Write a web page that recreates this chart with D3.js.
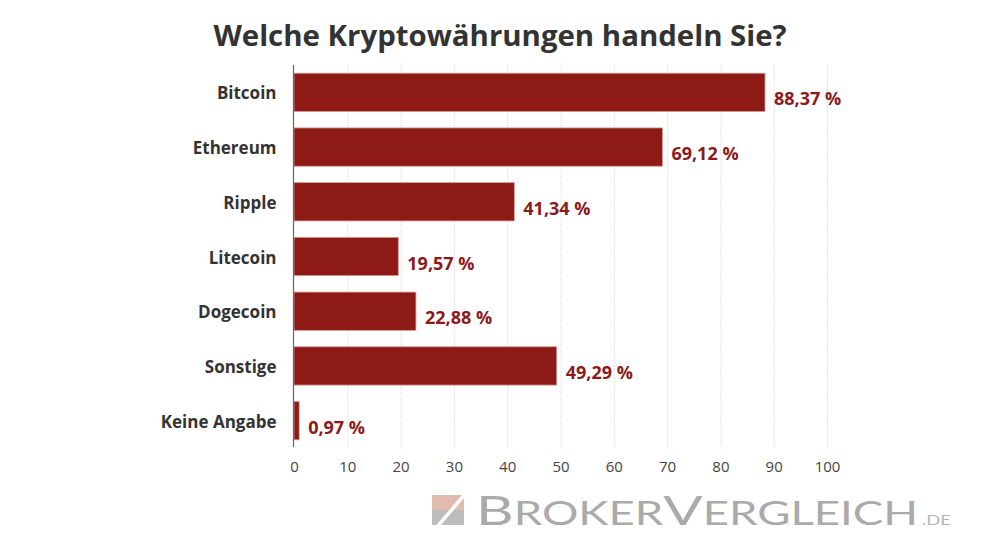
<!DOCTYPE html>
<html><head><meta charset="utf-8">
<script src="https://cdn.jsdelivr.net/npm/d3@7"></script>
<style>
body{margin:0;background:#fff;}
svg{display:block;}
</style></head>
<body>
<script>
const title = "Welche Kryptowährungen handeln Sie?";
const categories = ["Bitcoin","Ethereum","Ripple","Litecoin","Dogecoin","Sonstige","Keine Angabe"];
const values = [88.37,69.12,41.34,19.57,22.88,49.29,0.97];
const valueLabels = ["88,37 %","69,12 %","41,34 %","19,57 %","22,88 %","49,29 %","0,97 %"];
const xTicks = [0,10,20,30,40,50,60,70,80,90,100];

const W=1000,H=541;
const svg=d3.select("body").append("svg").attr("width",W).attr("height",H);
const font="'Open Sans', 'Noto Sans', sans-serif";

const x=d3.scaleLinear().domain([0,100]).range([294,827]);
const y=d3.scaleBand().domain(categories).range([65,448]).paddingInner(0.3).paddingOuter(0.15);

// title
svg.append("text").attr("x",500).attr("y",46).attr("text-anchor","middle")
  .attr("font-family",font).attr("font-weight",700).attr("font-size",29.4)
  .attr("fill","#333").text(title);

// grid
svg.append("g").selectAll("line").data(xTicks.slice(1)).join("line")
  .attr("x1",d=>x(d)+0.5).attr("x2",d=>x(d)+0.5).attr("y1",65).attr("y2",447)
  .attr("stroke","#e3e3e3").attr("stroke-width",1).attr("stroke-dasharray","2,1");

// x axis labels
const xAxis=d3.axisBottom(x).tickValues(xTicks).tickSize(0).tickPadding(0).tickFormat(d3.format("d"));
const gx=svg.append("g").attr("transform","translate(0,460)").call(xAxis);
gx.select(".domain").remove();
gx.selectAll("text").attr("font-family",font).attr("font-size",15).attr("fill","#444").attr("dy","0.8em");

// bars
svg.append("g").selectAll("rect").data(values).join("rect")
  .attr("x",x(0)).attr("y",(d,i)=>y(categories[i]))
  .attr("width",d=>x(d)-x(0)).attr("height",y.bandwidth())
  .attr("fill","#8e1a16").attr("stroke","#d49a96").attr("stroke-width",0.8);

// value labels
svg.append("g").selectAll("text").data(values).join("text")
  .attr("x",d=>x(d)+9).attr("y",(d,i)=>y(categories[i])+y.bandwidth()/2+13)
  .attr("font-family",font).attr("font-weight",700).attr("font-size",18)
  .attr("fill","#8b1a1a").text((d,i)=>valueLabels[i]);

// y axis
const yAxis=d3.axisLeft(y).tickSize(0).tickPadding(17);
const gy=svg.append("g").attr("transform","translate(293.5,0)").call(yAxis);
gy.select(".domain").remove();
gy.selectAll("text").attr("font-family",font).attr("font-weight",700).attr("font-size",17).attr("fill","#333").attr("dy","0.42em");
svg.append("line").attr("x1",293.5).attr("x2",293.5).attr("y1",65).attr("y2",447).attr("stroke","#666").attr("stroke-width",1.2);

// logo
const lg=svg.append("g");
lg.append("rect").attr("x",432).attr("y",495).attr("width",32).attr("height",15).attr("fill","#e2bbb0");
lg.append("rect").attr("x",432).attr("y",510).attr("width",32).attr("height",15).attr("fill","#bdbdbd");
lg.append("line").attr("x1",437).attr("y1",527).attr("x2",466).attr("y2",493).attr("stroke","#fff").attr("stroke-width",3.5);
const lf="Lato, 'DejaVu Sans', sans-serif";
const t=lg.append("text").attr("x",476).attr("y",524.5).attr("font-family",lf).attr("font-weight",400).attr("fill","#aaaaaa");
const parts=[["B",41],["ROKER",32],["V",41],["ERGLEICH",32]];
parts.forEach(p=>t.append("tspan").attr("font-size",p[1]).text(p[0]));
t.attr("textLength",442).attr("lengthAdjust","spacingAndGlyphs");
lg.append("text").attr("x",922).attr("y",524.5).attr("font-family",lf).attr("font-weight",400).attr("font-size",14).attr("fill","#b5b5b5")
  .attr("textLength",29).attr("lengthAdjust","spacingAndGlyphs").text(".DE");
</script>
</body></html>
